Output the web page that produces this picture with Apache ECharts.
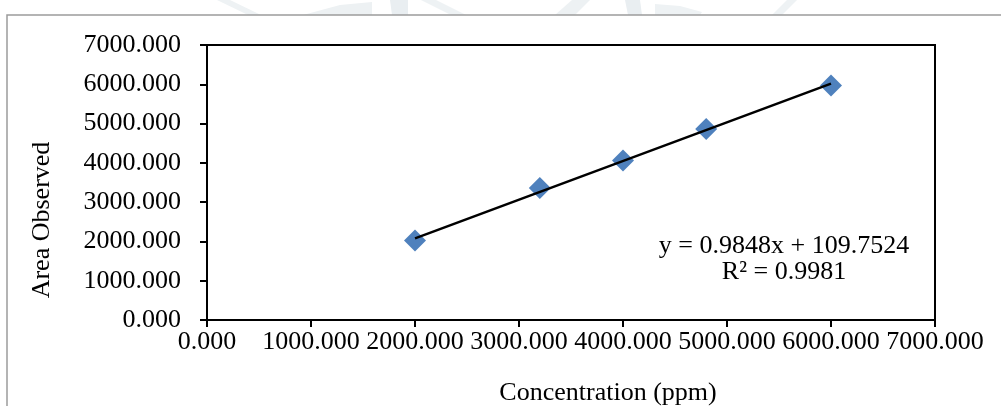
<!DOCTYPE html>
<html>
<head>
<meta charset="utf-8">
<script src="https://cdn.jsdelivr.net/npm/echarts@6/dist/echarts.min.js"></script>
<style>
  html, body { margin: 0; padding: 0; background: #ffffff; }
  #chart { width: 1001px; height: 406px; }
</style>
</head>
<body>
<div id="chart"></div>
<script>
// Calibration data: concentration (ppm) vs. observed peak area
const concentration = [2000, 3200, 4000, 4800, 6000];
const areaObserved = [2023, 3361, 4062, 4859, 5966];

// Linear fit reported on the chart
const slope = 0.9848;
const intercept = 109.7524;
const rSquared = 0.9981;

// Axis ticks
const xTicks = [0, 1000, 2000, 3000, 4000, 5000, 6000, 7000];
const yTicks = [0, 1000, 2000, 3000, 4000, 5000, 6000, 7000];

const FONT = '"Liberation Serif", "Times New Roman", serif';

const points = concentration.map((c, i) => [c, areaObserved[i]]);
const xFirst = Math.min(...concentration);
const xLast = Math.max(...concentration);
const trend = [xFirst, xLast].map(x => [x, slope * x + intercept]);

const chart = echarts.init(document.getElementById('chart'), null, { renderer: 'canvas' });

const axisCommon = {
  type: 'value',
  splitLine: { show: false },
  axisLine: { show: true, onZero: false, lineStyle: { color: '#000', width: 2 } },
  axisTick: { show: true, inside: false, length: 7, lineStyle: { color: '#000', width: 2 } },
  axisLabel: {
    color: '#000',
    fontFamily: FONT,
    fontSize: 26,
    formatter: v => v.toFixed(3)
  }
};

chart.setOption({
  backgroundColor: '#ffffff',
  animation: false,
  grid: {
    left: 207, right: 66, top: 45, bottom: 86,
    show: true, borderColor: '#000', borderWidth: 2, backgroundColor: 'transparent'
  },
  xAxis: Object.assign({}, axisCommon, {
    min: xTicks[0], max: xTicks[xTicks.length - 1], interval: xTicks[1] - xTicks[0],
    axisLabel: Object.assign({}, axisCommon.axisLabel, { margin: 9, showMaxLabel: true, hideOverlap: false })
  }),
  yAxis: Object.assign({}, axisCommon, {
    min: yTicks[0], max: yTicks[yTicks.length - 1], interval: yTicks[1] - yTicks[0],
    axisLabel: Object.assign({}, axisCommon.axisLabel, { margin: 26 })
  }),
  graphic: [
    // faint background marks above the chart frame
    { type: 'polygon', silent: true, z: -10, shape: { points: [[217, 0], [230, 0], [261, 15], [248, 15]] }, style: { fill: '#eef2f4' } },
    { type: 'polygon', silent: true, z: -10, shape: { points: [[303, 15], [340, 5], [372, 2], [372, 15]] }, style: { fill: '#edf1f3' } },
    { type: 'polygon', silent: true, z: -10, shape: { points: [[390, 0], [408, 0], [408, 15], [392, 15]] }, style: { fill: '#e9eef1' } },
    { type: 'polygon', silent: true, z: -10, shape: { points: [[421, 0], [436, 0], [466, 15], [451, 15]] }, style: { fill: '#eef2f4' } },
    { type: 'polygon', silent: true, z: -10, shape: { points: [[555, 15], [572, 0], [590, 0], [575, 15]] }, style: { fill: '#edf1f3' } },
    { type: 'polygon', silent: true, z: -10, shape: { points: [[625, 0], [640, 0], [642, 15], [628, 15]] }, style: { fill: '#e9eef1' } },
    { type: 'polygon', silent: true, z: -10, shape: { points: [[655, 4], [680, 6], [702, 12], [700, 15], [655, 15]] }, style: { fill: '#eef2f4' } },
    { type: 'polygon', silent: true, z: -10, shape: { points: [[787, 0], [797, 0], [782, 15], [772, 15]] }, style: { fill: '#eef2f4' } },
    // chart frame
    { type: 'rect', silent: true, z: -5, shape: { x: 7, y: 15, width: 1200, height: 600 }, style: { fill: '#ffffff', stroke: '#9c9c9c', lineWidth: 1.5 } },
    // axis titles
    { type: 'text', silent: true, x: 42, y: 220, rotation: Math.PI / 2,
      style: { text: 'Area Observed', font: '26px ' + FONT, fill: '#000', align: 'center', verticalAlign: 'middle' } },
    { type: 'text', silent: true, x: 608, y: 393,
      style: { text: 'Concentration (ppm)', font: '26px ' + FONT, fill: '#000', align: 'center', verticalAlign: 'middle' } },
    // regression equation
    { type: 'text', silent: true, x: 784, y: 259,
      style: {
        text: 'y = ' + slope.toFixed(4) + 'x + ' + intercept.toFixed(4) + '\nR² = ' + rSquared.toFixed(4),
        font: '26px ' + FONT, fill: '#000', align: 'center', verticalAlign: 'middle', lineHeight: 26
      } }
  ],
  series: [
    {
      name: 'Area Observed',
      type: 'scatter',
      data: points,
      symbol: 'diamond',
      symbolSize: 22,
      itemStyle: { color: '#4F81BD', opacity: 1 },
      z: 2
    },
    {
      name: 'Linear fit',
      type: 'line',
      data: trend,
      showSymbol: false,
      symbol: 'none',
      lineStyle: { color: '#000', width: 2.5 },
      z: 3
    }
  ]
});
</script>
</body>
</html>
